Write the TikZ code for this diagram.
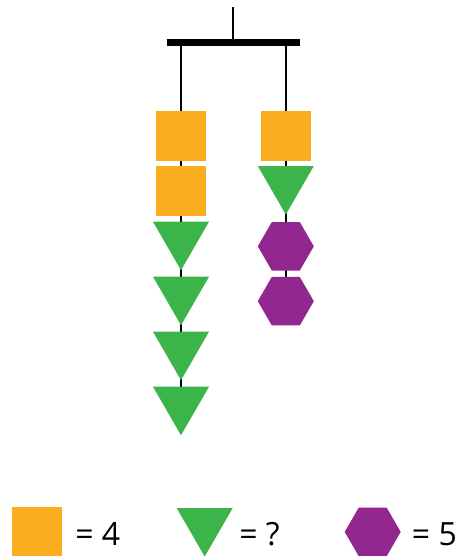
\documentclass[tikz,border=0pt]{standalone}
\usepackage{fontspec}
\setmainfont{Open Sans}
\usetikzlibrary{shapes.geometric,backgrounds}
\definecolor{sqor}{HTML}{F9AC1E}
\definecolor{trgr}{HTML}{3BB54A}
\definecolor{hxpu}{HTML}{92278F}
\tikzset{
  sq/.style={fill=sqor,draw=none,minimum size=37.5pt,inner sep=0pt,outer sep=0pt},
  tri/.style={regular polygon,regular polygon sides=3,shape border rotate=180,fill=trgr,draw=none,minimum size=48.5pt,inner sep=0pt,outer sep=0pt},
  hex/.style={regular polygon,regular polygon sides=6,fill=hxpu,draw=none,minimum size=42pt,inner sep=0pt,outer sep=0pt},
  wire/.style={line width=1.5pt,black},
  bar/.style={line width=5.25pt,black},
  lbl/.style={anchor=base west,inner sep=0pt,font=\fontsize{24}{28}\selectfont}
}
\begin{document}
\begin{tikzpicture}[x=0.75pt,y=-0.75pt]
\useasboundingbox (0,0) rectangle (457,556);
% hanger
\coordinate (top) at (233,7);
\coordinate (hook) at (233,42.2);
\coordinate (barL) at (166.7,42.2);
\coordinate (barR) at (300,42.2);
\coordinate (wl) at (181,42.2);
\coordinate (wr) at (285.8,42.2);
% left column
\node[sq] (l1) at (181,136) {};
\node[sq] (l2) at (181,191) {};
\node[tri] (l3) at (181,237.9) {};
\node[tri] (l4) at (181,292.9) {};
\node[tri] (l5) at (181,347.9) {};
\node[tri] (l6) at (181,402.9) {};
% right column
\node[sq] (r1) at (285.8,136) {};
\node[tri] (r2) at (285.8,182.2) {};
\node[hex] (r3) at (285.8,246.3) {};
\node[hex] (r4) at (285.8,301.2) {};
\begin{pgfonlayer}{background}
\draw[wire] (top) -- (hook);
\draw[bar] (barL) -- (barR);
\draw[wire] (wl) -- (l6.center);
\draw[wire] (wr) -- (r4.center);
\end{pgfonlayer}
% legend
\node[sq] (k1) at (37,532) {};
\node[lbl] (t1) at (75,545) {= 4};
\node[tri] (k2) at (204.7,524.2) {};
\node[lbl] (t2) at (239,545) {= ?};
\node[hex] (k3) at (372.7,531.9) {};
\node[lbl] (t3) at (411.7,545) {= 5};
\end{tikzpicture}
\end{document}
